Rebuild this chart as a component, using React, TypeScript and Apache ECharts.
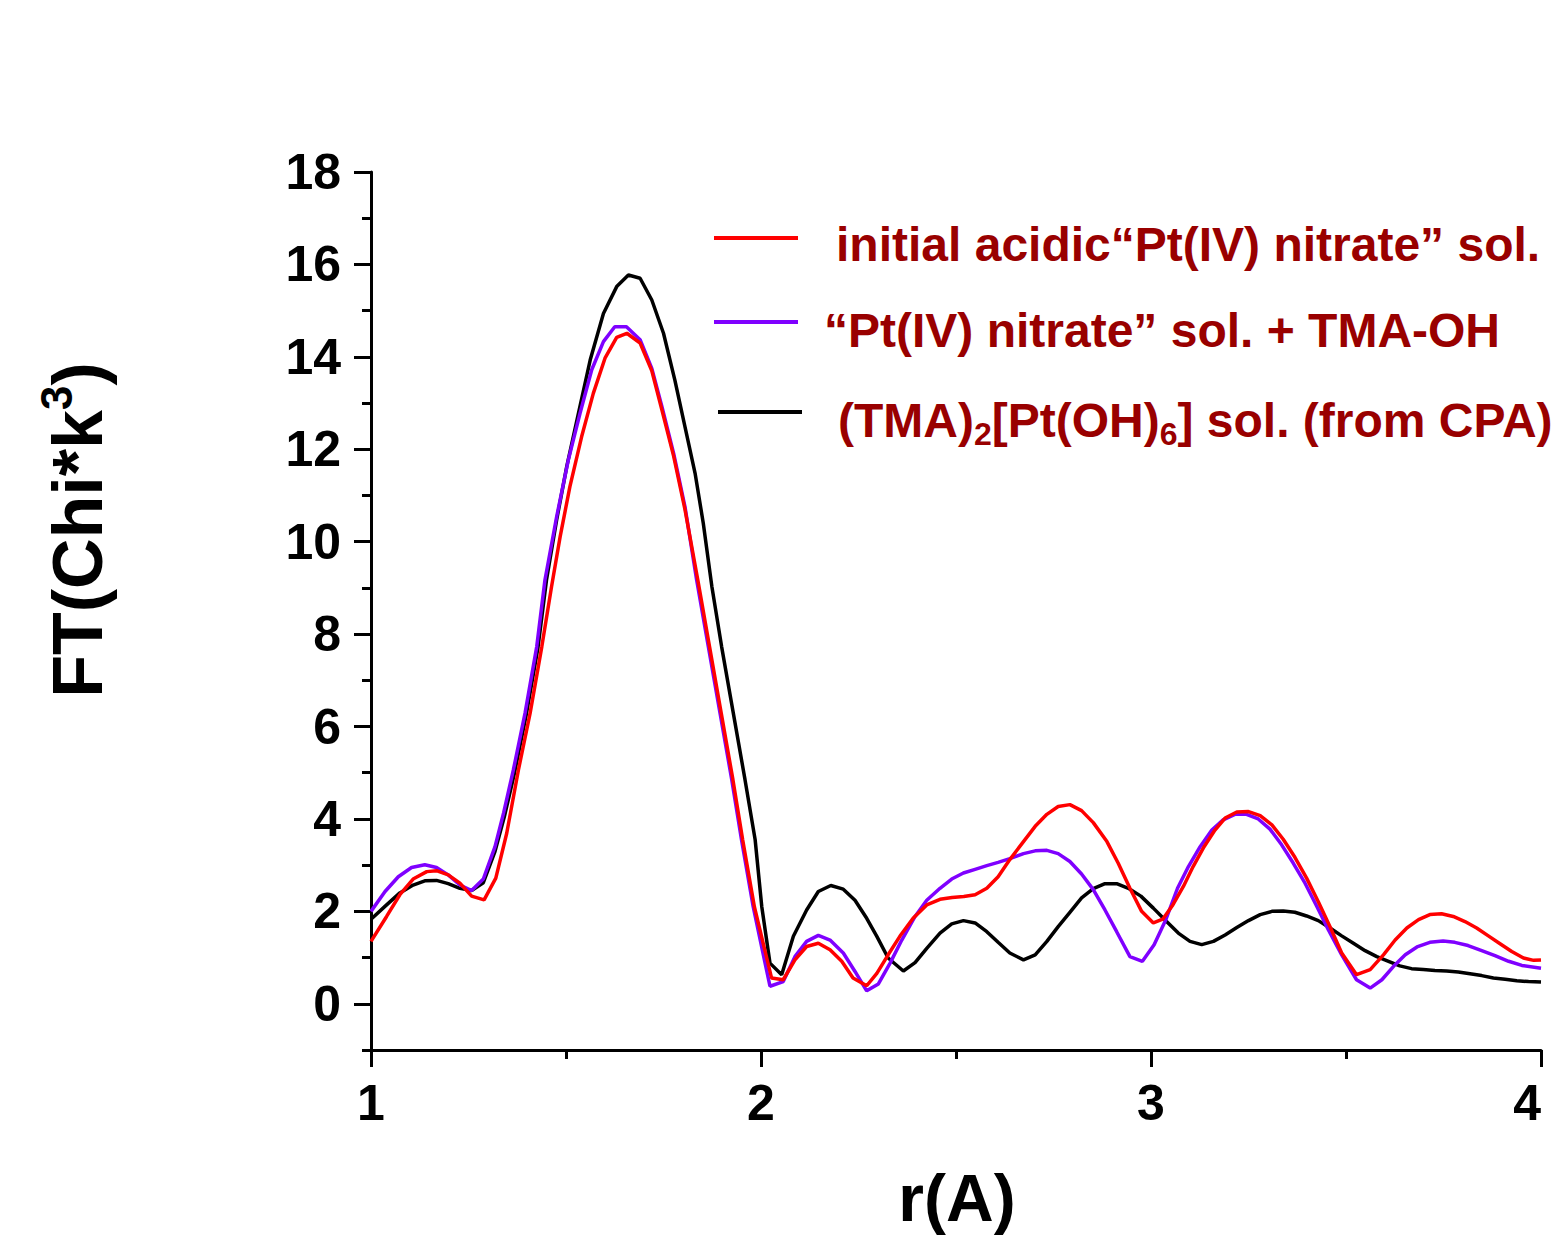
import React, { useEffect, useRef } from "react";
import * as echarts from "echarts";

// ---- data ----
const redR = [1.0, 1.04, 1.074, 1.108, 1.143, 1.168, 1.198, 1.228, 1.258, 1.29, 1.32, 1.348, 1.378, 1.408, 1.438, 1.463, 1.485, 1.51, 1.54, 1.57, 1.6, 1.63, 1.656, 1.69, 1.72, 1.746, 1.776, 1.805, 1.838, 1.868, 1.898, 1.928, 1.953, 1.983, 2.027, 2.057, 2.087, 2.117, 2.147, 2.177, 2.207, 2.236, 2.271, 2.297, 2.326, 2.356, 2.39, 2.425, 2.459, 2.49, 2.52, 2.549, 2.579, 2.608, 2.638, 2.673, 2.703, 2.733, 2.762, 2.792, 2.822, 2.852, 2.887, 2.916, 2.946, 2.976, 3.006, 3.03, 3.056, 3.083, 3.108, 3.134, 3.164, 3.19, 3.22, 3.25, 3.28, 3.31, 3.339, 3.369, 3.399, 3.429, 3.459, 3.489, 3.527, 3.562, 3.596, 3.626, 3.656, 3.686, 3.715, 3.745, 3.775, 3.805, 3.835, 3.865, 3.895, 3.925, 3.955, 3.981, 4.0];
const redV = [1.35, 1.89, 2.36, 2.7, 2.86, 2.88, 2.79, 2.61, 2.33, 2.25, 2.72, 3.69, 5.06, 6.29, 7.73, 9.03, 10.11, 11.19, 12.27, 13.21, 13.97, 14.42, 14.51, 14.3, 13.7, 12.85, 11.85, 10.7, 9.17, 7.73, 6.29, 4.85, 3.55, 2.1, 0.56, 0.52, 0.95, 1.24, 1.31, 1.17, 0.92, 0.56, 0.39, 0.66, 1.06, 1.46, 1.85, 2.14, 2.26, 2.3, 2.32, 2.36, 2.5, 2.75, 3.12, 3.51, 3.84, 4.1, 4.27, 4.31, 4.18, 3.92, 3.51, 3.04, 2.5, 2.0, 1.75, 1.83, 2.14, 2.54, 2.97, 3.37, 3.76, 4.02, 4.15, 4.16, 4.07, 3.87, 3.56, 3.17, 2.72, 2.21, 1.67, 1.1, 0.63, 0.74, 1.06, 1.38, 1.64, 1.82, 1.93, 1.95, 1.89, 1.78, 1.64, 1.47, 1.3, 1.13, 0.99, 0.94, 0.95];

const purpleR = [1.0, 1.036, 1.07, 1.104, 1.138, 1.168, 1.198, 1.228, 1.258, 1.288, 1.318, 1.34, 1.365, 1.395, 1.425, 1.446, 1.476, 1.506, 1.536, 1.566, 1.596, 1.625, 1.655, 1.69, 1.72, 1.746, 1.776, 1.805, 1.835, 1.865, 1.895, 1.925, 1.95, 1.98, 2.023, 2.057, 2.087, 2.117, 2.147, 2.177, 2.211, 2.241, 2.271, 2.301, 2.331, 2.361, 2.395, 2.425, 2.459, 2.489, 2.519, 2.549, 2.579, 2.608, 2.638, 2.673, 2.703, 2.733, 2.762, 2.792, 2.822, 2.852, 2.882, 2.912, 2.946, 2.978, 3.008, 3.038, 3.068, 3.096, 3.126, 3.156, 3.185, 3.215, 3.245, 3.275, 3.305, 3.335, 3.365, 3.395, 3.425, 3.455, 3.489, 3.527, 3.562, 3.592, 3.622, 3.652, 3.682, 3.715, 3.749, 3.779, 3.813, 3.848, 3.882, 3.917, 3.951, 4.0];
const purpleV = [2.0, 2.43, 2.75, 2.95, 3.01, 2.95, 2.79, 2.57, 2.45, 2.7, 3.4, 4.13, 5.06, 6.29, 7.73, 9.17, 10.54, 11.77, 12.78, 13.72, 14.33, 14.65, 14.65, 14.37, 13.75, 12.92, 11.91, 10.76, 9.17, 7.73, 6.29, 4.85, 3.55, 2.1, 0.38, 0.48, 1.02, 1.35, 1.48, 1.38, 1.1, 0.7, 0.28, 0.43, 0.88, 1.38, 1.89, 2.24, 2.5, 2.7, 2.83, 2.91, 2.99, 3.06, 3.14, 3.25, 3.31, 3.32, 3.25, 3.08, 2.81, 2.47, 2.03, 1.56, 1.02, 0.92, 1.28, 1.82, 2.5, 2.97, 3.4, 3.76, 3.98, 4.1, 4.1, 4.0, 3.78, 3.44, 3.04, 2.61, 2.11, 1.6, 1.06, 0.52, 0.34, 0.52, 0.81, 1.06, 1.23, 1.33, 1.36, 1.33, 1.26, 1.15, 1.04, 0.92, 0.83, 0.77];

const blackR = [1.0, 1.04, 1.074, 1.108, 1.138, 1.168, 1.198, 1.228, 1.258, 1.288, 1.318, 1.342, 1.368, 1.398, 1.428, 1.45, 1.476, 1.502, 1.532, 1.562, 1.596, 1.63, 1.66, 1.69, 1.72, 1.75, 1.779, 1.805, 1.831, 1.852, 1.874, 1.899, 1.929, 1.959, 1.985, 2.002, 2.023, 2.053, 2.083, 2.117, 2.147, 2.179, 2.211, 2.241, 2.271, 2.297, 2.326, 2.365, 2.395, 2.425, 2.459, 2.489, 2.519, 2.549, 2.579, 2.608, 2.638, 2.673, 2.703, 2.733, 2.762, 2.792, 2.822, 2.852, 2.882, 2.912, 2.942, 2.974, 3.006, 3.04, 3.07, 3.1, 3.13, 3.16, 3.19, 3.22, 3.25, 3.28, 3.31, 3.339, 3.369, 3.399, 3.429, 3.459, 3.489, 3.519, 3.549, 3.579, 3.609, 3.638, 3.668, 3.698, 3.728, 3.758, 3.788, 3.818, 3.848, 3.878, 3.908, 3.938, 3.968, 4.0];
const blackV = [1.83, 2.14, 2.4, 2.57, 2.66, 2.67, 2.6, 2.5, 2.45, 2.62, 3.3, 4.05, 5.0, 6.25, 7.7, 9.17, 10.47, 11.63, 12.78, 13.93, 14.94, 15.52, 15.77, 15.7, 15.23, 14.51, 13.5, 12.49, 11.48, 10.4, 9.03, 7.73, 6.29, 4.85, 3.55, 2.1, 0.88, 0.63, 1.46, 2.03, 2.43, 2.56, 2.48, 2.24, 1.85, 1.46, 0.99, 0.71, 0.89, 1.2, 1.53, 1.73, 1.8, 1.75, 1.56, 1.33, 1.1, 0.95, 1.06, 1.35, 1.67, 1.98, 2.29, 2.49, 2.6, 2.6, 2.5, 2.33, 2.07, 1.78, 1.53, 1.35, 1.28, 1.35, 1.49, 1.65, 1.8, 1.93, 2.0, 2.01, 1.98, 1.9, 1.8, 1.64, 1.47, 1.31, 1.15, 1.02, 0.92, 0.82, 0.76, 0.74, 0.72, 0.71, 0.69, 0.65, 0.61, 0.56, 0.53, 0.5, 0.48, 0.47];

const seriesNames = [
  "initial acidic“Pt(IV) nitrate” sol.",
  "“Pt(IV) nitrate” sol. + TMA-OH",
  "(TMA)2[Pt(OH)6] sol. (from CPA)",
];
const seriesColors = ["#ff0000", "#7f00ff", "#000000"];

const xTicks = [1, 2, 3, 4];
const yMajorTicks = [0, 2, 4, 6, 8, 10, 12, 14, 16, 18];
const yMinorTicks = [-1, 1, 3, 5, 7, 9, 11, 13, 15, 17];

const zip = (xs: number[], ys: number[]) => xs.map((x, i) => [x, ys[i]]);

const FONT = "'Liberation Sans', Arial, Helvetica, sans-serif";
const LEG = "#990000";

export default function App() {
  const ref = useRef<HTMLDivElement>(null);
  useEffect(() => {
    if (!ref.current) return;
    const chart = echarts.init(ref.current, null, { renderer: "svg" });
    const seriesData = [zip(redR, redV), zip(purpleR, purpleV), zip(blackR, blackV)];
    const legendY = [238, 322, 412];
    const legendX0 = [714, 714, 718];
    const legendTextX = [836, 824, 838];
    const legendTextY = [244, 330, 420];
    const legendTexts = [
      "{m|" + seriesNames[0] + "}",
      "{m|" + seriesNames[1] + "}",
      "{m|(TMA)}{sub|2}{m|[Pt(OH)}{sub|6}{m|] sol. (from CPA)}",
    ];
    const graphics: any[] = [];
    for (let i = 0; i < 3; i++) {
      graphics.push({
        type: "line",
        shape: { x1: legendX0[i], y1: legendY[i], x2: legendX0[i] + 84, y2: legendY[i] },
        style: { stroke: seriesColors[i], lineWidth: 4 },
      });
      const hasSub = i === 2;
      graphics.push({
        type: "text",
        x: legendTextX[i],
        y: legendTextY[i] + (hasSub ? 14 : 0),
        style: {
          text: legendTexts[i],
          fill: LEG,
          align: "left",
          verticalAlign: "middle",
          rich: {
            m: {
              fontSize: 48,
              fontWeight: "bold",
              fontFamily: FONT,
              fill: LEG,
              lineHeight: 48,
              verticalAlign: hasSub ? "top" : "middle",
            },
            sub: { fontSize: 32, fontWeight: "bold", fontFamily: FONT, fill: LEG, lineHeight: 76 },
          },
        },
      });
    }
    // y axis title
    graphics.push({
      type: "text",
      x: 78,
      y: 530,
      rotation: Math.PI / 2,
      style: {
        text: "{m|FT(Chi*k}{sup|3}{m|)}",
        align: "center",
        verticalAlign: "middle",
        fill: "#000",
        rich: {
          m: { fontSize: 70, fontWeight: "bold", fontFamily: FONT, fill: "#000", lineHeight: 88 },
          sup: { fontSize: 44, fontWeight: "bold", fontFamily: FONT, fill: "#000", lineHeight: 24, verticalAlign: "top" },
        },
      },
    });
    // x axis title
    graphics.push({
      type: "text",
      x: 957,
      y: 1198,
      style: {
        text: "r(A)",
        align: "center",
        verticalAlign: "middle",
        fill: "#000",
        fontSize: 66,
        fontWeight: "bold",
        fontFamily: FONT,
      },
    });

    chart.setOption({
      animation: false,
      backgroundColor: "#ffffff",
      grid: { left: 371, top: 172, width: 1170, height: 878, containLabel: false, outerBoundsMode: "none" },
      xAxis: {
        type: "value",
        min: 1,
        max: 4,
        interval: 1,
        axisLine: { show: true, onZero: false, lineStyle: { color: "#000", width: 3 } },
        axisTick: { show: true, length: 17, lineStyle: { color: "#000", width: 3 } },
        minorTick: { show: true, splitNumber: 2, length: 9, lineStyle: { color: "#000", width: 3 } },
        splitLine: { show: false },
        minorSplitLine: { show: false },
        axisLabel: {
          margin: 28,
          color: "#000",
          fontSize: 50,
          fontWeight: "bold",
          fontFamily: FONT,
          customValues: xTicks,
          alignMaxLabel: "right",
        },
      },
      yAxis: [
        {
          type: "value",
          min: -1,
          max: 18,
          position: "left",
          axisLine: { show: true, onZero: false, lineStyle: { color: "#000", width: 3 } },
          axisTick: { show: true, length: 17, customValues: yMajorTicks, lineStyle: { color: "#000", width: 3 } },
          splitLine: { show: false },
          axisLabel: {
            margin: 30,
            color: "#000",
            fontSize: 50,
            fontWeight: "bold",
            fontFamily: FONT,
            customValues: yMajorTicks,
          },
        },
        {
          type: "value",
          min: -1,
          max: 18,
          position: "left",
          axisLine: { show: false },
          axisTick: { show: true, length: 9, customValues: yMinorTicks, lineStyle: { color: "#000", width: 3 } },
          splitLine: { show: false },
          axisLabel: { show: false },
        },
      ],
      series: seriesNames.map((name, i) => ({
        name,
        type: "line",
        xAxisIndex: 0,
        yAxisIndex: 0,
        data: seriesData[i],
        showSymbol: false,
        symbol: "none",
        smooth: false,
        lineStyle: { color: seriesColors[i], width: 3.5 },
        itemStyle: { color: seriesColors[i] },
        z: 3 - i,
      })),
      graphic: graphics,
    });
    return () => chart.dispose();
  }, []);
  return (
    <div
      ref={ref}
      style={{ position: "absolute", left: 0, top: 0, width: 1553, height: 1240, background: "#fff" }}
    />
  );
}
